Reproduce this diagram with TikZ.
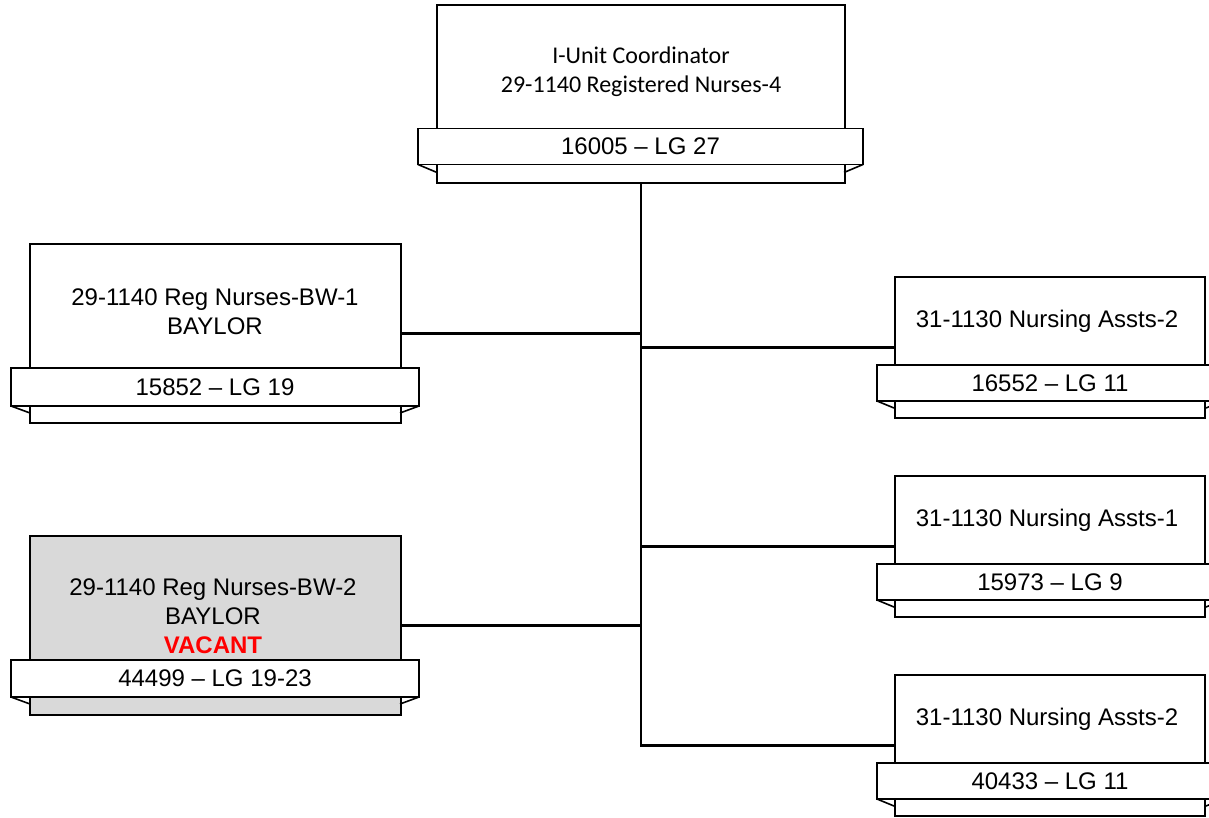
\documentclass[tikz,border=0pt]{standalone}
\usepackage{fontspec}
\setmainfont{Liberation Sans}
\newfontfamily\calfont{Carlito}
\definecolor{boxgray}{HTML}{D9D9D9}
\definecolor{vacred}{HTML}{FF0000}
\begin{document}
\begin{tikzpicture}[x=1pt,y=-1pt,
  mainbox/.style={draw, line width=1.6pt, fill=white, inner sep=0pt, outer sep=0pt},
  ribbon/.style={draw, line width=1.6pt, fill=white, inner sep=0pt, outer sep=0pt,
    font=\fontsize{24}{29}\selectfont},
  lbl/.style={align=center, font=\fontsize{24}{29}\selectfont, inner sep=0pt},
  wire/.style={line width=2.6pt},
  fold/.style={line width=1.6pt}]
\useasboundingbox (0,0) rectangle (1209,817);

% connectors (drawn first)
\coordinate (trunk) at (641,183);
% top box
\node[mainbox, minimum width=408pt, minimum height=178pt] (top) at (641,94) {};
\node[ribbon, minimum width=445pt, minimum height=36pt] (topr) at (640.5,146.5) {16005 -- LG 27};
\draw[fold] (topr.south west) -- ++(19,8);
\draw[fold] (topr.south east) -- ++(-19,8);
\node[lbl, font=\calfont\fontsize{24}{29}\selectfont] (toplbl) at (641,71.5) {I-Unit Coordinator\\29-1140 Registered Nurses-4};

% left boxes
\node[mainbox, minimum width=371pt, minimum height=179pt] (l1) at (215.5,333.5) {};
\node[ribbon, minimum width=408pt, minimum height=38pt] (l1r) at (215,387) {15852 -- LG 19};
\draw[fold] (l1r.south west) -- ++(19,7);
\draw[fold] (l1r.south east) -- ++(-19,7);
\node[lbl] (l1lbl) at (215,311.5) {29-1140 Reg Nurses-BW-1\\BAYLOR};

\node[mainbox, fill=boxgray, minimum width=371pt, minimum height=179pt] (l2) at (215.5,625.5) {};
\node[ribbon, minimum width=408pt, minimum height=37pt] (l2r) at (215,678.5) {44499 -- LG 19-23};
\draw[fold] (l2r.south west) -- ++(19,7);
\draw[fold] (l2r.south east) -- ++(-19,7);
\node[lbl] (l2lbl) at (213,616.5) {29-1140 Reg Nurses-BW-2\\BAYLOR\\\textcolor{vacred}{\bfseries VACANT}};

% right boxes
\node[mainbox, minimum width=310pt, minimum height=141pt] (r1) at (1050,347.5) {};
\node[ribbon, minimum width=346pt, minimum height=36pt] (r1r) at (1050,383) {16552 -- LG 11};
\draw[fold] (r1r.south west) -- ++(17,7);
\draw[fold] (r1r.south east) -- ++(-17,7);
\node[lbl] (r1lbl) at (1047,321) {31-1130 Nursing Assts-2};

\node[mainbox, minimum width=310pt, minimum height=141pt] (r2) at (1050,546.5) {};
\node[ribbon, minimum width=346pt, minimum height=36pt] (r2r) at (1050,582) {15973 -- LG 9};
\draw[fold] (r2r.south west) -- ++(17,7);
\draw[fold] (r2r.south east) -- ++(-17,7);
\node[lbl] (r2lbl) at (1047,520) {31-1130 Nursing Assts-1};

\node[mainbox, minimum width=310pt, minimum height=141pt] (r3) at (1050,745.5) {};
\node[ribbon, minimum width=346pt, minimum height=36pt] (r3r) at (1050,781) {40433 -- LG 11};
\draw[fold] (r3r.south west) -- ++(17,7);
\draw[fold] (r3r.south east) -- ++(-17,7);
\node[lbl] (r3lbl) at (1047,719) {31-1130 Nursing Assts-2};

% connectors
\draw[wire] (top.south) -- (r3.west -| top.south) -- (r3.west);
\draw[wire] (l1.east) -- (l1.east -| top.south);
\draw[wire] (l2.east) -- (l2.east -| top.south);
\draw[wire] (r1.west) -- (r1.west -| top.south);
\draw[wire] (r2.west) -- (r2.west -| top.south);
\end{tikzpicture}
\end{document}
